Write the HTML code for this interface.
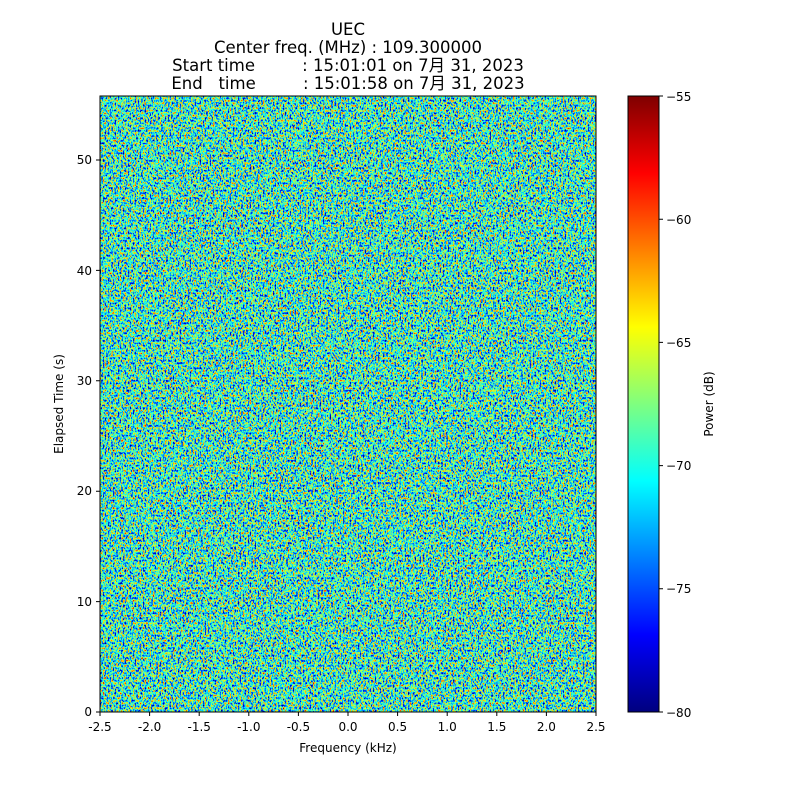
<!DOCTYPE html>
<html><head><meta charset="utf-8"><style>
body{margin:0;background:#fff}
svg{display:block;font-family:"DejaVu Sans","Noto Sans CJK JP",sans-serif}
</style></head><body>
<svg width="800" height="800" viewBox="0 0 800 800" xmlns="http://www.w3.org/2000/svg">
<defs>
<filter id="n" x="0" y="0" width="100%" height="100%" color-interpolation-filters="sRGB">
<feTurbulence type="fractalNoise" baseFrequency="0.6 0.4" numOctaves="2" seed="3" result="t"/>
<feColorMatrix in="t" type="matrix" values="1.5 0 0 0 -0.33  1.5 0 0 0 -0.33  1.5 0 0 0 -0.33  0 0 0 0 1"/>
<feComponentTransfer>
<feFuncR type="table" tableValues="0 0 0 0 0.5 1 1 1 0.5"/>
<feFuncG type="table" tableValues="0 0 0.5 1 1 1 0.5 0 0"/>
<feFuncB type="table" tableValues="0.5 1 1 1 0.5 0 0 0 0"/>
<feFuncA type="linear" slope="0" intercept="1"/>
</feComponentTransfer>
</filter>
<linearGradient id="jet" x1="0" y1="1" x2="0" y2="0">
<stop offset="0" stop-color="#00007f"/><stop offset="0.125" stop-color="#0000ff"/>
<stop offset="0.375" stop-color="#00ffff"/><stop offset="0.5" stop-color="#7fff7f"/>
<stop offset="0.625" stop-color="#ffff00"/><stop offset="0.875" stop-color="#ff0000"/>
<stop offset="1" stop-color="#7f0000"/>
</linearGradient>
</defs>
<g font-size="16.5" text-anchor="middle" fill="#000">
<text x="348" y="35">UEC</text>
<text x="348" y="53">Center freq. (MHz) : 109.300000</text>
<text x="348" y="71" xml:space="preserve">Start time         : 15:01:01 on 7月 31, 2023</text>
<text x="348" y="89" xml:space="preserve">End   time         : 15:01:58 on 7月 31, 2023</text>
</g>
<rect x="100" y="96" width="496" height="616" fill="#40e0c0" filter="url(#n)"/>
<rect x="100" y="96" width="496" height="616" fill="none" stroke="#000" stroke-width="1"/>
<g stroke="#000">
<path d="M100 712v4M149.6 712v4M199.2 712v4M248.8 712v4M298.4 712v4M348 712v4M397.6 712v4M447.2 712v4M496.8 712v4M546.4 712v4M596 712v4"/>
<path d="M100 712h-4M100 601.6h-4M100 491.2h-4M100 380.8h-4M100 270.4h-4M100 160h-4"/>
<path d="M659 96h4M659 219.2h4M659 342.4h4M659 465.6h4M659 588.8h4M659 712h4"/>
</g>
<g font-size="12" text-anchor="middle">
<text x="100" y="731">-2.5</text><text x="149.6" y="731">-2.0</text><text x="199.2" y="731">-1.5</text>
<text x="248.8" y="731">-1.0</text><text x="298.4" y="731">-0.5</text><text x="348" y="731">0.0</text>
<text x="397.6" y="731">0.5</text><text x="447.2" y="731">1.0</text><text x="496.8" y="731">1.5</text>
<text x="546.4" y="731">2.0</text><text x="596" y="731">2.5</text>
<text x="348" y="752">Frequency (kHz)</text>
</g>
<g font-size="12" text-anchor="end">
<text x="92" y="716">0</text><text x="92" y="606">10</text><text x="92" y="495">20</text>
<text x="92" y="385">30</text><text x="92" y="275">40</text><text x="92" y="164">50</text>
</g>
<text transform="translate(63 404) rotate(-90)" font-size="12" text-anchor="middle">Elapsed Time (s)</text>
<rect x="628" y="96" width="31" height="616" fill="url(#jet)" stroke="#000" stroke-width="1"/>
<g font-size="12">
<text x="666" y="101">−55</text><text x="666" y="224">−60</text><text x="666" y="347">−65</text>
<text x="666" y="470">−70</text><text x="666" y="593">−75</text><text x="666" y="717">−80</text>
</g>
<text transform="translate(713 404) rotate(-90)" font-size="12" text-anchor="middle">Power (dB)</text>
</svg>
</body></html>
